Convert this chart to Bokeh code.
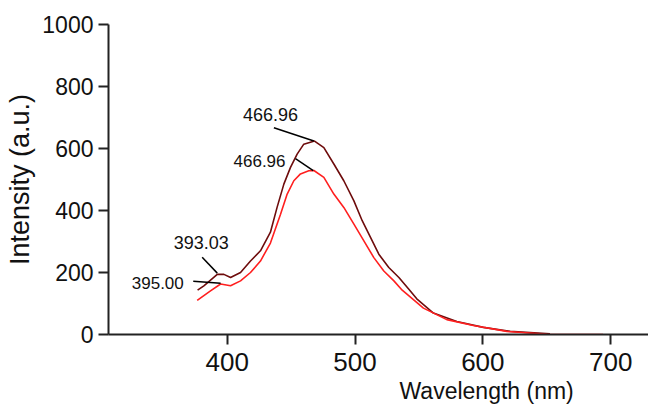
from bokeh.plotting import figure
from bokeh.models import Range1d, FixedTicker, Title, ColumnDataSource
from bokeh.core.properties import value
from bokeh.embed import file_html
from bokeh.resources import INLINE

# ---- data ----
dark_wl = [376.8, 381.7, 392.2, 397.4, 402.6, 410.4, 418.2, 426.0, 433.8, 439.0,
           444.3, 449.5, 454.7, 459.9, 468.3, 475.6, 483.4, 491.2, 499.1, 505.6,
           512.1, 518.6, 526.4, 534.3, 542.1, 548.3, 561.3, 579.6, 600.4, 621.3, 652.5]
dark_int = [143, 157, 194, 194, 184, 200, 237, 270, 330, 410,
            485, 539, 582, 614, 624, 603, 550, 496, 431, 367,
            313, 259, 216, 184, 146, 115, 69, 42, 23, 10, 2]

red_wl = [376.5, 386.9, 394.8, 402.6, 410.4, 418.2, 426.0, 433.8, 441.7, 446.9,
          452.1, 457.3, 463.8, 467.8, 475.6, 483.4, 491.2, 499.1, 506.9, 514.7,
          522.5, 530.4, 536.9, 553.5, 571.8, 592.6, 618.7, 650.0, 694.0]
red_int = [110, 141, 163, 157, 173, 200, 237, 295, 388, 453,
           496, 518, 528, 529, 507, 453, 410, 356, 302, 248,
           205, 173, 143, 85, 48, 29, 10, 1, 0]

x_ticks = [400, 500, 600, 700]
y_ticks = [0, 200, 400, 600, 800, 1000]

ann_text = ["466.96", "466.96", "393.03", "395.00"]
ann_peak_x = [467.8, 467.3, 392.2, 394.8]
ann_peak_y = [624, 529, 198, 165]
ann_tail_x = [436.5, 453.4, 380.4, 373.4]
ann_tail_y = [667, 567, 249, 172]
ann_lab_x = [433.9, 445.6, 379.7, 366.0]
ann_lab_y = [710, 561, 298, 166]
ann_align = ["center", "right", "center", "right"]
ann_size = ["18px", "17px", "18px", "17px"]

FONT = "Liberation Sans"

p = figure(width=648, height=416, output_backend="svg", toolbar_location=None,
           x_range=Range1d(307.1, 729.6), y_range=Range1d(0, 1000),
           min_border_left=108, min_border_right=0, min_border_top=24,
           min_border_bottom=82)
p.outline_line_color = None
p.xgrid.visible = False
p.ygrid.visible = False

for ax in (p.xaxis[0], p.yaxis[0]):
    ax.axis_line_width = 2
    ax.axis_line_color = "#222222"
    ax.major_tick_line_width = 2
    ax.major_tick_line_color = "#222222"
    ax.major_tick_out = 10
    ax.major_tick_in = 0
    ax.minor_tick_line_color = None
    ax.major_label_text_font = FONT
    ax.major_label_text_color = "#111111"

p.xaxis[0].ticker = FixedTicker(ticks=x_ticks)
p.yaxis[0].ticker = FixedTicker(ticks=y_ticks)
p.xaxis[0].major_label_standoff = 8
p.xaxis[0].major_label_text_font_size = "26px"
p.yaxis[0].major_label_standoff = 5
p.yaxis[0].major_label_text_font_size = "23px"

p.yaxis[0].axis_label = "Intensity (a.u.)"
p.yaxis[0].axis_label_text_font = FONT
p.yaxis[0].axis_label_text_font_style = "normal"
p.yaxis[0].axis_label_text_font_size = "27px"
p.yaxis[0].axis_label_standoff = 4
p.yaxis[0].axis_label_text_color = "#111111"

xt = Title(text="Wavelength (nm)", align="left", offset=291, standoff=4,
           text_font=FONT, text_font_size="23px", text_font_style="normal",
           text_color="#111111")
p.add_layout(xt, "below")

p.line(dark_wl, dark_int, line_color="#6e0c0c", line_width=1.6)
p.line(red_wl, red_int, line_color="#ff1f1f", line_width=1.6)

p.segment(x0=ann_tail_x, y0=ann_tail_y, x1=ann_peak_x, y1=ann_peak_y,
          line_color="#000000", line_width=1.5)

src = ColumnDataSource(dict(x=ann_lab_x, y=ann_lab_y, t=ann_text,
                            a=ann_align, s=ann_size))
p.text(x="x", y="y", text="t", text_align="a", text_font_size="s",
       text_baseline="middle", text_font=value(FONT), text_color="#111111",
       source=src)

open("out.html", "w").write(file_html(p, INLINE))
